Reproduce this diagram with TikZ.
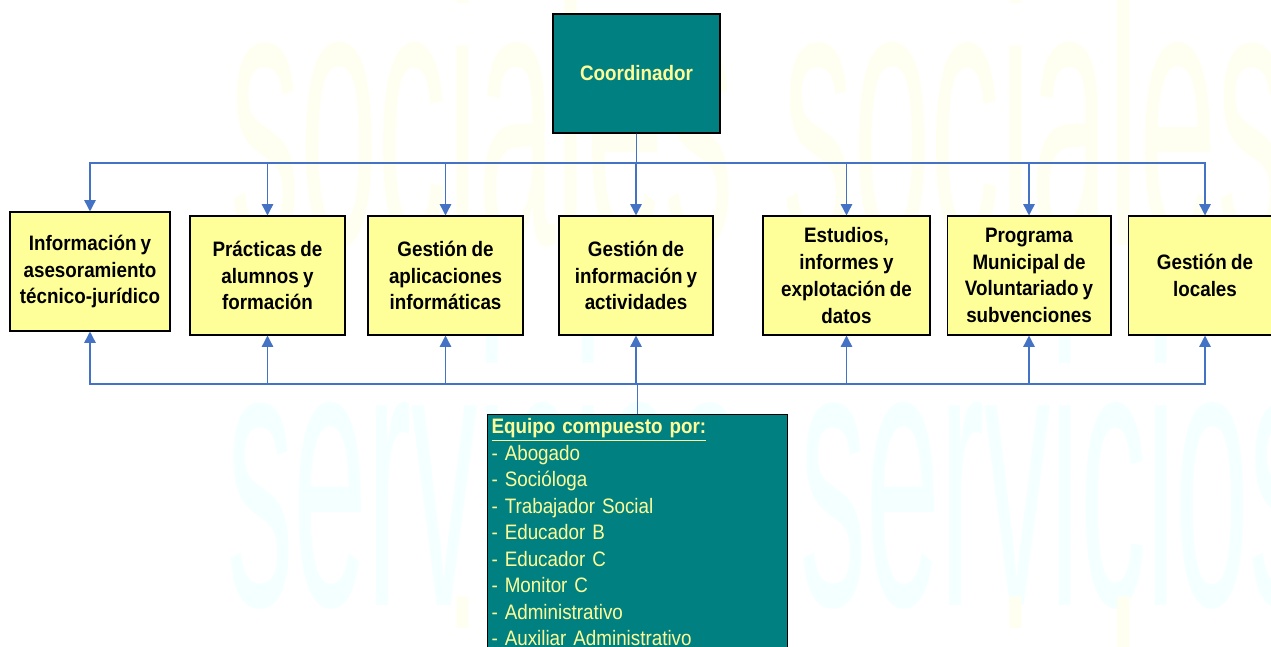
\documentclass[tikz,border=0pt]{standalone}
\usepackage{fontspec}
\setmainfont{Liberation Sans}[FakeStretch=0.9,WordSpace=0.8]
\usetikzlibrary{arrows.meta}
\definecolor{tealbox}{RGB}{0,128,128}
\definecolor{pale}{RGB}{255,255,153}
\definecolor{linkblue}{RGB}{68,114,196}
\definecolor{wmyellow}{RGB}{255,255,241}
\definecolor{wmcyan}{RGB}{244,255,255}
\tikzset{>={Triangle[width=6.5pt,length=6.5pt]}}
\tikzset{area/.style={draw=black,line width=0.6pt,fill=pale,align=center,inner sep=2pt,
    minimum height=2.38cm,font=\bfseries\fontsize{11.9}{15.2}\selectfont}}
\tikzset{head/.style={draw=black,line width=0.6pt,fill=tealbox,text=pale,
    minimum width=3.34cm,minimum height=2.38cm,font=\bfseries\fontsize{11.9}{15.2}\selectfont}}
\tikzset{team/.style={draw=black,line width=0.6pt,fill=tealbox,text=pale,anchor=north west,
    align=left,text width=5.84cm,inner sep=0.08cm,font=\fontsize{11.9}{15.1}\selectfont}}
\tikzset{link/.style={draw=linkblue,line width=0.85pt}}
\tikzset{wm/.style={anchor=base west,inner sep=0,font=\fontsize{215}{215}\selectfont}}

\begin{document}
\begin{tikzpicture}[x=0.02cm,y=-0.02cm]
    \useasboundingbox (0,0) rectangle (1271,646);
    \clip (0,0) rectangle (1271,646);
    % watermark
    \node[wm,text=wmyellow] (wmA) at (230,245) {\scalebox{0.41}[1]{sociales}};
    \node[wm,text=wmyellow] (wmB) at (783,245) {\scalebox{0.41}[1]{sociales}};
    \node[wm,text=wmcyan] (wmC) at (227,605) {\scalebox{0.39}[1]{servicios}};
    \node[wm,text=wmcyan] (wmD) at (800,605) {\scalebox{0.39}[1]{servicios}};
    \node[wm,text=wmyellow] (wmE) at (230,870) {\scalebox{0.41}[1]{sociales}};
    \node[wm,text=wmyellow] (wmF) at (783,870) {\scalebox{0.41}[1]{sociales}};
    % boxes
    \node[head] (coord) at (636.5,73.5) {Coordinador};
    \node[area,minimum width=3.2cm] (info) at (90,271.5) {Información y\\asesoramiento\\técnico-jurídico};
    \node[area,minimum width=3.1cm] (prac) at (267.5,275.5) {Prácticas de\\alumnos y\\formación};
    \node[area,minimum width=3.1cm] (apps) at (445.5,275.5) {Gestión de\\aplicaciones\\informáticas};
    \node[area,minimum width=3.08cm] (gest) at (636,275.5) {Gestión de\\información y\\actividades};
    \node[area,minimum width=3.34cm] (estu) at (846.5,275.5) {Estudios,\\informes y\\explotación de\\datos};
    \node[area,minimum width=3.28cm] (prog) at (1029,275.5) {Programa\\Municipal de\\Voluntariado y\\subvenciones};
    \node[area,minimum width=3.08cm] (loca) at (1205,275.5) {Gestión de\\locales};
    \node[team] (equipo) at (487,414) {\underline{\textbf{Equipo compuesto por:}}\\- Abogado\\- Socióloga\\- Trabajador Social\\- Educador B\\- Educador C\\- Monitor C\\- Administrativo\\- Auxiliar Administrativo};
    % connectors
    \coordinate (top) at (637,163);
    \coordinate (bot) at (637,384);
    \foreach \b in {info,prac,apps,gest,estu,prog,loca}
      \draw[link,->] (coord.south) |- (top -| \b.north) -- (\b.north);
    \foreach \b in {info,prac,apps,gest,estu,prog,loca}
      \draw[link,->] (equipo.north) |- (bot -| \b.south) -- (\b.south);
  \end{tikzpicture}
\end{document}
